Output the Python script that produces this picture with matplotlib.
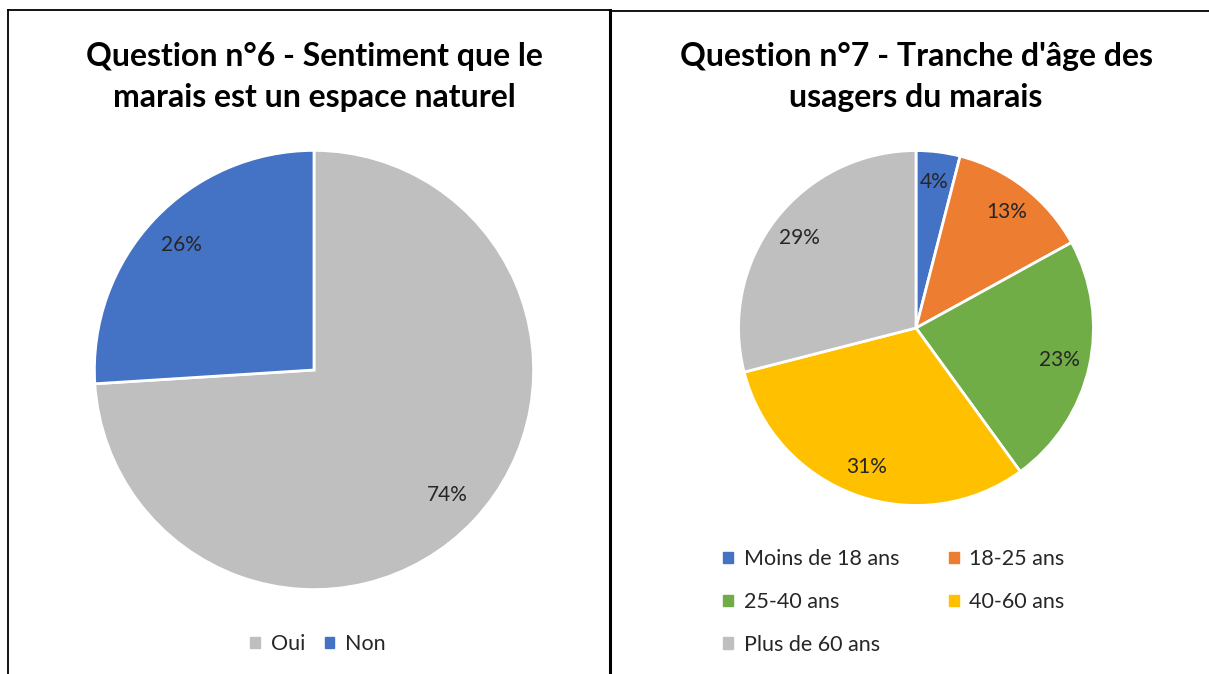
import matplotlib.pyplot as plt
from matplotlib.lines import Line2D
from matplotlib.patches import Patch

plt.rcParams['font.family'] = ['Lato', 'DejaVu Sans']

# Question 6
q6_labels = ['Oui', 'Non']
q6_values = [74, 26]
q6_colors = ['#BFBFBF', '#4472C4']

# Question 7
q7_labels = ['Moins de 18 ans', '18-25 ans', '25-40 ans', '40-60 ans', 'Plus de 60 ans']
q7_values = [4, 13, 23, 31, 29]
q7_colors = ['#4472C4', '#ED7D31', '#70AD47', '#FFC000', '#BFBFBF']

W, H = 1209, 674
fig = plt.figure(figsize=(W / 100, H / 100), dpi=100)


def px_axes(cx, cy, r):
    # square axes centred on a pixel position (y measured from the top)
    return fig.add_axes([(cx - r) / W, (H - cy - r) / H, 2 * r / W, 2 * r / H])


def draw_pie(ax, values, colors):
    ax.pie(values, colors=colors, startangle=90, counterclock=False,
           autopct='%d%%', pctdistance=0.83, radius=1.0,
           wedgeprops=dict(edgecolor='white', linewidth=2),
           textprops=dict(fontsize=15, color='#262626'))
    ax.set_xlim(-1.02, 1.02)
    ax.set_ylim(-1.02, 1.02)
    ax.set_aspect('equal')
    ax.axis('off')


ax1 = px_axes(314, 370, 224)
draw_pie(ax1, q6_values, q6_colors)
ax2 = px_axes(916, 328, 181)
draw_pie(ax2, q7_values, q7_colors)

title_kw = dict(fontsize=23, fontweight='bold', color='black', ha='center',
                va='center', linespacing=1.5)
fig.text(314 / W, 1 - 77 / H, 'Question n°6 - Sentiment que le\nmarais est un espace naturel',
         **title_kw)
fig.text(916 / W, 1 - 77 / H, "Question n°7 - Tranche d'âge des\nusagers du marais", **title_kw)

# panel frames
frame_kw = dict(color='black', linewidth=1.3, transform=fig.transFigure)
fig.add_artist(Line2D([8 / W, 8 / W], [0, 1 - 10 / H], **frame_kw))
fig.add_artist(Line2D([8 / W, 610 / W], [1 - 10 / H, 1 - 10 / H], **frame_kw))
fig.add_artist(Line2D([610 / W, 610 / W], [0, 1 - 10 / H], color='black', linewidth=2.2,
                      transform=fig.transFigure))
fig.add_artist(Line2D([610 / W, 1], [1 - 11 / H, 1 - 11 / H], **frame_kw))

leg_kw = dict(frameon=False, fontsize=15.5, handlelength=0.45, handleheight=0.45,
              handletextpad=0.5, labelcolor='#262626')
h1 = [Patch(color=c) for c in q6_colors]
fig.legend(h1, q6_labels, loc='center', bbox_to_anchor=(318 / W, 1 - 644 / H), ncol=2,
           columnspacing=0.9, **leg_kw)

# legend filled row by row: reorder for matplotlib's column-major layout
order = [0, 2, 4, 1, 3]
h2 = [Patch(color=q7_colors[i]) for i in order]
fig.legend(h2, [q7_labels[i] for i in order], loc='upper left',
           bbox_to_anchor=(704 / W, 1 - 530 / H), ncol=2,
           columnspacing=2.3, labelspacing=1.05, **leg_kw)

fig.savefig('out.png', dpi=100, facecolor='white')
